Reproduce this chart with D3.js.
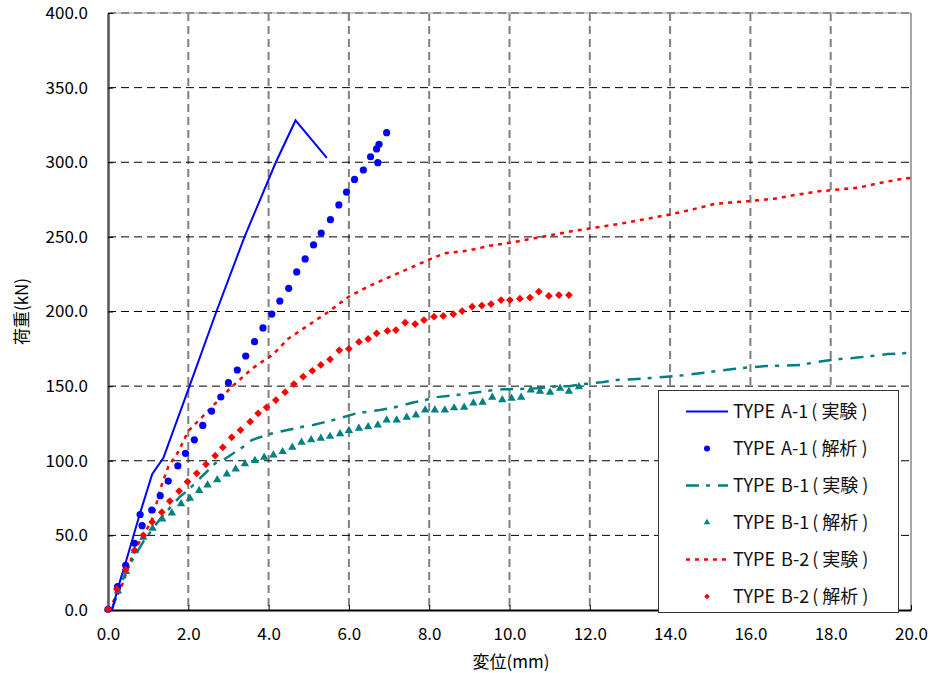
<!DOCTYPE html>
<html>
<head>
<meta charset="utf-8">
<script src="https://cdn.jsdelivr.net/npm/d3@7.9.0/dist/d3.min.js"></script>
<style>
  body { margin: 0; background: #fff; }
  svg { display: block; font-family: "Noto Sans CJK JP", "DejaVu Sans", sans-serif; }
</style>
</head>
<body>
<svg id="chart" width="938" height="673"></svg>
<script>
// displacement (mm), load (kN)
const typeA1Exp = [[0.1,0],[0.25,15],[0.42,30],[0.8,65],[1.1,91],[1.38,102],[2.03,150],[2.7,200],[3.4,250],[4.18,300],[4.67,328],[5.45,303]];

const typeA1Ana = [[0,0.5],[0.24,15.6],[0.44,30],[0.66,44.7],[0.85,56.5],[0.8,64],[1.09,67],[1.3,76.6],[1.5,86.4],[1.74,96.5],[1.93,105],[2.15,114],[2.36,123.7],[2.58,133.3],[2.81,142.7],[3.0,152.3],[3.22,160.8],[3.43,170.2],[3.65,179.8],[3.86,189],[4.08,198.3],[4.28,207],[4.5,215.5],[4.7,226.5],[4.91,235.2],[5.12,244.6],[5.31,252.6],[5.54,261.5],[5.75,271.4],[5.94,280],[6.14,288.5],[6.36,294.8],[6.54,303.7],[6.72,299.7],[6.69,308.9],[6.75,312],[6.94,319.8]];

const typeB1Exp = [[0.09,0],[0.46,26.8],[0.88,45.8],[1.34,62.5],[1.79,75.9],[2.0,80.4],[2.29,88.2],[2.67,98.3],[2.87,100.5],[3.37,109.4],[3.58,113.9],[4.03,117.9],[4.28,119.5],[4.78,122.4],[5.11,124],[5.61,127.3],[6.19,131.8],[6.77,134],[7.1,135.5],[7.6,139],[7.95,141],[8.14,142.5],[8.68,144],[9.02,145.2],[9.47,146.9],[9.85,147.9],[10.22,148.1],[10.68,148.5],[11.05,149.6],[11.51,150.1],[11.8,151.2],[12.3,152.6],[12.67,154.1],[13.17,154.8],[13.5,155.4],[13.91,156.3],[14.33,157.3],[14.74,158.6],[15.16,160.1],[15.57,161.5],[15.99,162.6],[16.41,163.5],[16.82,163.7],[17.24,164.2],[17.57,165.7],[17.82,166.8],[18.23,168.2],[18.61,169],[19.02,170.2],[19.43,171.5],[19.81,172],[20,172.3]];

const typeB1Ana = [[0,0],[0.25,12],[0.45,25],[0.67,39],[0.88,48],[1.11,54],[1.35,60.3],[1.59,64.3],[1.82,70.4],[2.04,74.2],[2.27,79.3],[2.48,83.1],[2.72,86.6],[2.96,90.4],[3.18,93.8],[3.41,97.2],[3.66,99.4],[3.89,101.6],[4.12,103.2],[4.35,105.4],[4.59,108.3],[4.82,111.7],[5.06,113.4],[5.3,114.4],[5.53,115.6],[5.78,117.3],[6.0,119.5],[6.25,121],[6.48,122.1],[6.72,123.3],[6.94,126.6],[7.19,126.6],[7.44,128.4],[7.67,130],[7.9,133.3],[8.14,133.3],[8.39,133.3],[8.62,134.7],[8.87,135.1],[9.1,138],[9.33,138.5],[9.57,141.8],[9.82,140.2],[10.05,141.1],[10.29,141.8],[10.53,146.7],[10.76,145.8],[11.01,145.2],[11.26,147.9],[11.48,145.8],[11.73,148.9]];

const typeB2Exp = [[0,0],[0.3,13],[0.66,40],[0.88,50],[1.09,60],[1.34,84],[1.5,96],[1.75,106],[2.0,120],[2.3,128],[2.8,142],[3.1,150],[3.6,162],[4.1,171],[4.5,182],[5.0,191],[5.5,200],[6.0,210],[6.5,217],[7.0,223],[7.6,230],[8.1,236],[8.4,239],[9.0,241],[9.5,244],[10.0,246],[10.5,248.5],[11.0,251],[11.6,254],[12.2,256.5],[12.8,259],[13.4,262],[14.0,265],[14.5,268],[15.1,272],[15.5,273],[16.0,274],[16.6,275.6],[17.1,278],[17.7,280.5],[18.1,281.5],[18.7,283],[19.2,286],[19.8,289],[20.0,289.5]];

const typeB2Ana = [[0,0.5],[0.22,14],[0.44,27],[0.66,40],[0.88,50],[1.1,59],[1.34,65.5],[1.54,73],[1.77,79.7],[1.98,86],[2.21,91.6],[2.44,97.6],[2.67,103.4],[2.86,109],[3.08,115.7],[3.3,120.6],[3.54,126.2],[3.74,131.8],[3.95,135.8],[4.18,140.7],[4.41,145.9],[4.63,151.4],[4.86,156.3],[5.09,160.3],[5.3,164.2],[5.53,168],[5.76,174],[6.0,175],[6.25,179.6],[6.48,181.6],[6.69,185.4],[6.96,187],[7.17,187.6],[7.4,192.5],[7.65,191.6],[7.87,194.3],[8.12,196.5],[8.35,197],[8.6,198.3],[8.82,200.3],[9.07,203.2],[9.31,204],[9.54,205],[9.79,207.7],[10.01,207.7],[10.26,208.6],[10.51,209.3],[10.73,213.3],[10.98,210.4],[11.23,211],[11.48,211]];

const xTicks = d3.range(0, 20.01, 2);
const yTicks = d3.range(0, 400.1, 50);
const legendNames = ["TYPE A-1", "TYPE A-1", "TYPE B-1", "TYPE B-1", "TYPE B-2", "TYPE B-2"];
const legendKinds = ["実験", "解析", "実験", "解析", "実験", "解析"];

const svg = d3.select("#chart");
const x = d3.scaleLinear().domain([0, 20]).range([108, 911]);
const y = d3.scaleLinear().domain([0, 400]).range([610, 13]);

const BLUE = "#0000ff", TEAL = "#008080", RED = "#ff0000";

// grid
svg.append("g").selectAll("line")
  .data(xTicks.filter(d => d > 0 && d < 20))
  .join("line")
  .attr("x1", d => x(d)).attr("x2", d => x(d))
  .attr("y1", y(400)).attr("y2", y(0))
  .attr("stroke", "#808080").attr("stroke-width", 2)
  .attr("stroke-dasharray", "8,5");

svg.append("g").selectAll("line")
  .data(yTicks.filter(d => d > 0 && d < 400))
  .join("line")
  .attr("x1", x(0)).attr("x2", x(20))
  .attr("y1", d => y(d)).attr("y2", d => y(d))
  .attr("stroke", "#000").attr("stroke-width", 1)
  .attr("stroke-dasharray", "8,5");

// frame top / right
svg.append("line").attr("x1", x(0)).attr("x2", x(20)).attr("y1", y(400)).attr("y2", y(400))
  .attr("stroke", "#bbb").attr("stroke-width", 1.5);
svg.append("line").attr("x1", x(0)).attr("x2", x(20)).attr("y1", y(400)).attr("y2", y(400))
  .attr("stroke", "#777").attr("stroke-width", 1.5).attr("stroke-dasharray", "8,5");
svg.append("line").attr("x1", x(20)).attr("x2", x(20)).attr("y1", y(400)).attr("y2", y(0))
  .attr("stroke", "#888").attr("stroke-width", 1.5);

// axes
const xAxis = d3.axisBottom(x).tickValues(xTicks).tickFormat(d3.format(".1f")).tickSizeInner(-5).tickSizeOuter(0).tickPadding(18);
const yAxis = d3.axisLeft(y).tickValues(yTicks).tickFormat(d3.format(".1f")).tickSizeInner(-5).tickSizeOuter(0).tickPadding(20);

const gx = svg.append("g").attr("transform", `translate(0,${y(0)})`).call(xAxis);
gx.select(".domain").attr("stroke", "#000").attr("stroke-width", 2);
gx.selectAll("text").attr("font-size", 17).attr("fill", "#000").attr("font-family", "'Noto Sans CJK JP', sans-serif");

const gy = svg.append("g").attr("transform", `translate(${x(0)},0)`).call(yAxis);
gy.select(".domain").attr("stroke", "#555").attr("stroke-width", 2.5);
gy.selectAll("text").attr("font-size", 17).attr("fill", "#000").attr("font-family", "'Noto Sans CJK JP', sans-serif");

svg.append("text")
  .attr("x", 511).attr("y", 668)
  .attr("text-anchor", "middle").attr("font-size", 17).attr("fill", "#000")
  .text("変位(mm)");

svg.append("text")
  .attr("transform", `translate(28,${y(200)}) rotate(-90)`)
  .attr("text-anchor", "middle").attr("font-size", 17).attr("fill", "#000")
  .text("荷重(kN)");

// series
const line = d3.line().x(d => x(d[0])).y(d => y(d[1]));
const plot = svg.append("g");

plot.append("path").datum(typeB2Exp).attr("d", line)
  .attr("fill", "none").attr("stroke", RED).attr("stroke-width", 2.5).attr("stroke-dasharray", "4,5");
plot.append("path").datum(typeB1Exp).attr("d", line)
  .attr("fill", "none").attr("stroke", TEAL).attr("stroke-width", 2.5).attr("stroke-dasharray", "13,7,4,8");
plot.append("path").datum(typeA1Exp).attr("d", line)
  .attr("fill", "none").attr("stroke", BLUE).attr("stroke-width", 2);

const tri = d3.symbol().type(d3.symbolTriangle).size(30);
const sq = d3.symbol().type(d3.symbolSquare).size(30);

plot.append("g").selectAll("path").data(typeB1Ana).join("path")
  .attr("d", tri)
  .attr("transform", d => `translate(${x(d[0])},${y(d[1]) - 1})`)
  .attr("fill", TEAL);

plot.append("g").selectAll("circle").data(typeA1Ana).join("circle")
  .attr("cx", d => x(d[0])).attr("cy", d => y(d[1]))
  .attr("r", 3.6).attr("fill", BLUE);

plot.append("g").selectAll("path").data(typeB2Ana).join("path")
  .attr("d", sq)
  .attr("transform", d => `translate(${x(d[0])},${y(d[1])}) rotate(45)`)
  .attr("fill", RED);

// legend
const lg = svg.append("g");
lg.append("rect").attr("x", 658.5).attr("y", 390.5).attr("width", 240).attr("height", 222)
  .attr("fill", "#fff").attr("stroke", "#333").attr("stroke-width", 1);

const rows = lg.selectAll("g.row").data(legendNames).join("g")
  .attr("class", "row")
  .attr("transform", (d, i) => `translate(0,${411.5 + i * 37})`);

const txt = rows.append("text").attr("x", 733).attr("y", 6.5).attr("font-size", 18).attr("fill", "#111")
  .attr("word-spacing", 2);
txt.append("tspan").text(d => d);
txt.append("tspan").attr("dx", 3).text("(");
txt.append("tspan").attr("dx", 4).text((d, i) => legendKinds[i]);
txt.append("tspan").attr("dx", 4).text(")");

const legendLine = (i, color, dash, w) => {
  const l = rows.filter((d, j) => j === i).append("line")
    .attr("x1", 686).attr("x2", 728).attr("y1", 0).attr("y2", 0)
    .attr("stroke", color).attr("stroke-width", w);
  if (dash) l.attr("stroke-dasharray", dash);
};
legendLine(0, BLUE, null, 2);
legendLine(2, TEAL, "13,7,4,8", 2.5);
legendLine(4, RED, "4,5", 2.5);

rows.filter((d, j) => j === 1).append("circle").attr("cx", 707).attr("cy", 0).attr("r", 3).attr("fill", BLUE);
rows.filter((d, j) => j === 3).append("path").attr("d", d3.symbol().type(d3.symbolTriangle).size(18)).attr("transform", "translate(707,0)").attr("fill", TEAL);
rows.filter((d, j) => j === 5).append("path").attr("d", d3.symbol().type(d3.symbolSquare).size(16)).attr("transform", "translate(707,0) rotate(45)").attr("fill", RED);
</script>
</body>
</html>
